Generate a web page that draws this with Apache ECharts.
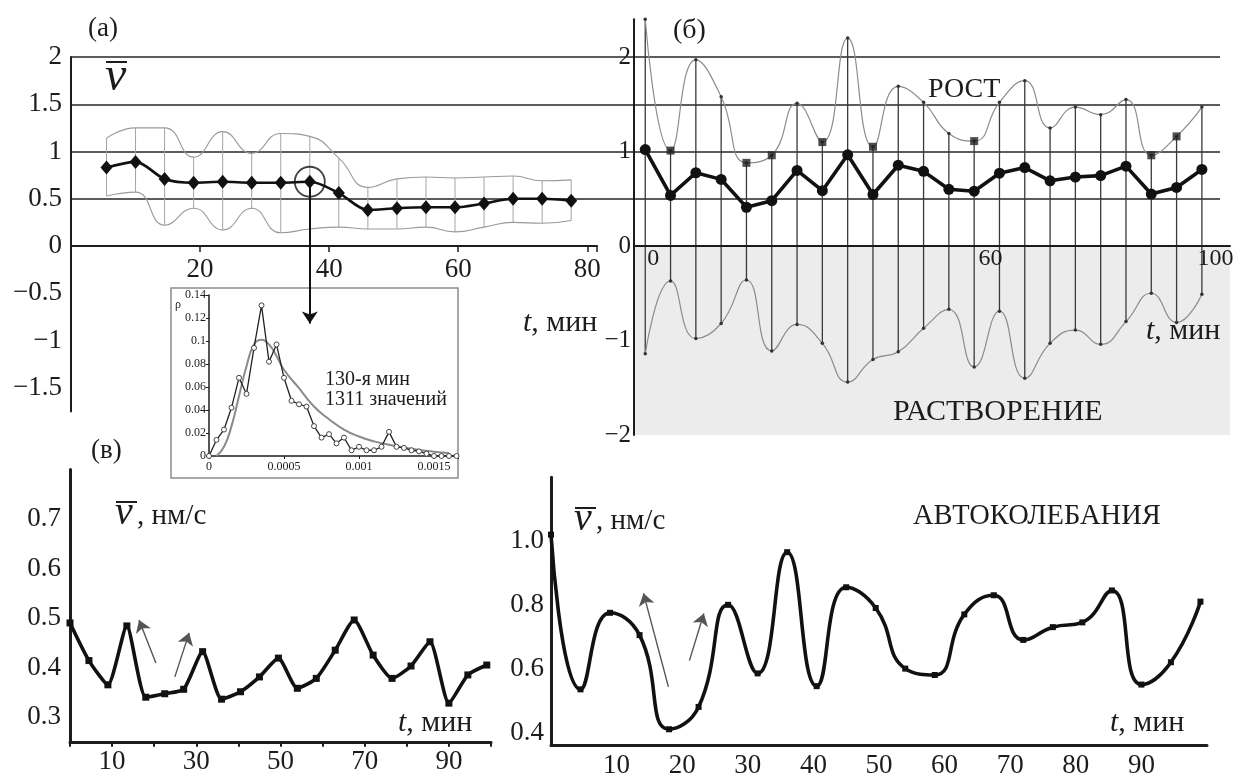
<!DOCTYPE html>
<html>
<head>
<meta charset="utf-8">
<script src="https://cdn.jsdelivr.net/npm/echarts@6/dist/echarts.min.js"></script>
<style>
  html, body { margin: 0; padding: 0; background: #fff; }
  #chart { width: 1244px; height: 773px; }
</style>
</head>
<body>
<div id="chart"></div>
<script>
// ---- (a) mean step velocity with spread band ----
const tA = [5.5, 10, 14.5, 19, 23.5, 28, 32.5, 37, 41.5, 46, 50.5, 55, 59.5, 64, 68.5, 73, 77.5];
const meanA = [0.83, 0.89, 0.71, 0.67, 0.68, 0.67, 0.67, 0.68, 0.56, 0.38, 0.40, 0.41, 0.41, 0.45, 0.50, 0.50, 0.48];
const upperA = [1.14, 1.25, 1.25, 0.94, 1.21, 0.98, 1.19, 1.16, 0.93, 0.62, 0.71, 0.73, 0.72, 0.73, 0.74, 0.69, 0.70];
const lowerA = [0.53, 0.57, 0.22, 0.40, 0.17, 0.40, 0.14, 0.18, 0.20, 0.18, 0.18, 0.20, 0.15, 0.20, 0.25, 0.24, 0.27];
const circledIdxA = 7;          // point whose distribution is shown in the inset
const insetArrowTipA = -0.82;   // where the pointer arrow ends
const ticksAX = [20, 40, 60, 80];
const ticksAY = [-1.5, -1, -0.5, 0, 0.5, 1, 1.5, 2];

// ---- inset: distribution of velocities, 130th minute ----
const rhoX = [0, 0.00005, 0.0001, 0.00015, 0.0002, 0.00025, 0.0003, 0.00035, 0.0004, 0.00045,
              0.0005, 0.00055, 0.0006, 0.00065, 0.0007, 0.00075, 0.0008, 0.00085, 0.0009, 0.00095,
              0.001, 0.00105, 0.0011, 0.00115, 0.0012, 0.00125, 0.0013, 0.00135, 0.0014, 0.00145,
              0.0015, 0.00155, 0.0016, 0.00165];
const rhoY = [0, 0.014, 0.023, 0.042, 0.068, 0.054, 0.094, 0.131, 0.082, 0.097,
              0.068, 0.048, 0.045, 0.043, 0.026, 0.016, 0.019, 0.011, 0.016, 0.005,
              0.008, 0.005, 0.005, 0.008, 0.021, 0.008, 0.007, 0.005, 0.004, 0.002,
              0, 0, 0, 0];
const fitX = [0.00005, 0.0001, 0.00015, 0.0002, 0.00025, 0.0003, 0.00035, 0.0004, 0.00045, 0.0005,
              0.0006, 0.0007, 0.0008, 0.0009, 0.001, 0.0011, 0.0012, 0.0013, 0.0014, 0.0015, 0.0016];
const fitY = [0, 0.008, 0.026, 0.052, 0.078, 0.097, 0.101, 0.097, 0.087, 0.075,
              0.059, 0.043, 0.032, 0.023, 0.017, 0.0127, 0.0098, 0.0074, 0.0053, 0.0038, 0.0027];
const ticksInsetX = [0, 0.0005, 0.001, 0.0015];

// ---- (б) growth / dissolution with mean, 4.5-min sampling ----
const tB = [0, 4.5, 9, 13.5, 18, 22.5, 27, 31.5, 36, 40.5, 45, 49.5, 54, 58.5, 63, 67.5, 72, 76.5, 81, 85.5, 90, 94.5, 99];
const meanB = [1.02, 0.535, 0.775, 0.705, 0.41, 0.48, 0.80, 0.585, 0.965, 0.545, 0.855, 0.79,
               0.60, 0.58, 0.77, 0.83, 0.69, 0.73, 0.745, 0.845, 0.55, 0.62, 0.81];
const upperB = [2.4, 1.01, 1.97, 1.58, 0.88, 0.96, 1.51, 1.10, 2.20, 1.05, 1.69, 1.52,
                1.19, 1.11, 1.52, 1.75, 1.25, 1.47, 1.39, 1.55, 0.96, 1.16, 1.47];
const lowerB = [-1.14, -0.37, -0.98, -0.82, -0.36, -1.11, -0.83, -1.03, -1.44, -1.20, -1.12, -0.87,
                -0.67, -1.28, -0.69, -1.40, -1.03, -0.89, -1.04, -0.80, -0.50, -0.81, -0.51];
const squareIdxB = [1, 4, 5, 7, 9, 13, 20, 21];
const ticksBX = [0, 60, 100];
const ticksBY = [-2, -1, 0, 1, 2];

// ---- (в) mean velocity, two runs ----
const meanV1 = [0.49, 0.414, 0.365, 0.484, 0.340, 0.347, 0.356, 0.432, 0.336, 0.351, 0.381, 0.419,
                0.358, 0.378, 0.435, 0.496, 0.425, 0.378, 0.403, 0.452, 0.328, 0.385, 0.405];
const ticksV1X = [10, 30, 50, 70, 90];
const ticksV1Y = [0.3, 0.4, 0.5, 0.6, 0.7];
const ticksV2X = [10, 20, 30, 40, 50, 60, 70, 80, 90];
const ticksV2Y = [0.4, 0.6, 0.8, 1.0];
// trend arrows: [from, to] in (t, v)
const arrowsV1 = [[[20.4, 0.409], [16.4, 0.496]], [[24.9, 0.381], [28.3, 0.470]]];
const arrowsV2 = [[[17.9, 0.543], [14.1, 0.836]], [[21.1, 0.625], [23.3, 0.773]]];

const FONT = '"Liberation Serif", "Times New Roman", serif';
const INK = '#1c1c1c';

const near = (list, v) => list.some(l => Math.abs(l - v) < 1e-6);
const signed = v => String(+v.toFixed(4)).replace('-', '\u2212');
const pick = (list, fmt) => v => near(list, v) ? fmt(v) : '';
const oneDec = v => v.toFixed(1);

function axisLine(width) { return { onZero: false, lineStyle: { color: INK, width: width } }; }
function labelStyle(size, margin, fmt, extra) {
  return Object.assign({ fontSize: size, fontFamily: FONT, color: INK, margin: margin, formatter: fmt }, extra || {});
}
const hiddenAxis = (gridIndex, min, max) => ({ gridIndex, type: 'value', min, max, show: false });

function spreadSeries(idx, t, hi, lo, color, width) {
  return {
    type: 'custom', xAxisIndex: idx, yAxisIndex: idx, silent: true, z: 2,
    data: t.map((x, i) => [x, hi[i], lo[i]]),
    encode: { x: 0, y: [1, 2] },
    renderItem: (params, api) => {
      const a = api.coord([api.value(0), api.value(1)]);
      const b = api.coord([api.value(0), api.value(2)]);
      return { type: 'line', shape: { x1: a[0], y1: a[1], x2: b[0], y2: b[1] },
               style: { stroke: color, lineWidth: width } };
    }
  };
}

function arrowMarks(list, color, width) {
  return {
    silent: true, symbol: ['none', 'arrow'], symbolSize: 12,
    lineStyle: { color: color, width: width, type: 'solid' }, label: { show: false },
    data: list.map(([p, q]) => [{ coord: p }, { coord: q }])
  };
}

function text(x, y, s, size, extra) {
  return { type: 'text', x: x, y: y, z: 10, silent: true,
           style: Object.assign({ text: s, fontSize: size, fontFamily: FONT, fill: INK,
                                  align: 'left', verticalAlign: 'middle' }, extra || {}) };
}
function tLabel(x, y, size) {
  return text(x, y, '{i|t}, мин', size, {
    rich: { i: { fontStyle: 'italic', fontSize: size, fontFamily: FONT, fill: INK } }
  });
}
function vBar(x, y, size, barY, barLen) {
  return [
    text(x, y, 'v', size, { fontStyle: 'italic' }),
    { type: 'line', z: 10, silent: true, shape: { x1: x + 1, y1: barY, x2: x + barLen, y2: barY },
      style: { stroke: INK, lineWidth: 2 } }
  ];
}

const chart = echarts.init(document.getElementById('chart'), null, { renderer: 'canvas' });

const option = {
  backgroundColor: '#fff',
  animation: false,
  grid: [
    { left: 71, top: 57, width: 1149, height: 141.75, outerBoundsMode: 'none' },   // 0 shared horizontal rules
    { left: 71, top: 57, width: 526, height: 354.375, outerBoundsMode: 'none' },   // 1 (a) data
    { left: 634, top: 19.2, width: 596, height: 415.8, outerBoundsMode: 'none' },  // 2 (б) data
    { left: 209, top: 295, width: 249, height: 161, outerBoundsMode: 'none' },     // 3 inset
    { left: 70, top: 469.5, width: 421, height: 272.25, outerBoundsMode: 'none' }, // 4 (в) left
    { left: 551, top: 477.2, width: 656, height: 268, outerBoundsMode: 'none' },   // 5 (в) right
    { left: 71, top: 57, width: 526, height: 189, outerBoundsMode: 'none' },       // 6 (a) time axis at v = 0
    { left: 634, top: 19.2, width: 596, height: 226.8, outerBoundsMode: 'none' }   // 7 (б) time axis at v = 0
  ],
  xAxis: [
    hiddenAxis(0, 0, 1),
    hiddenAxis(1, 0, 81.5),
    hiddenAxis(2, -2, 104),
    { gridIndex: 3, type: 'value', min: 0, max: 0.00166, interval: 0.0005,
      axisLine: axisLine(1.5), axisTick: { length: 3, lineStyle: { color: INK } },
      axisLabel: labelStyle(12, 5, pick(ticksInsetX, v => String(+v.toFixed(4)))),
      splitLine: { show: false } },
    { gridIndex: 4, type: 'value', min: 0, max: 100, interval: 10,
      axisLine: axisLine(3), axisTick: { length: 5, lineStyle: { color: INK, width: 2 } },
      axisLabel: labelStyle(27, 7, pick(ticksV1X, signed)), splitLine: { show: false } },
    { gridIndex: 5, type: 'value', min: 0, max: 100, interval: 10,
      axisLine: axisLine(3), axisTick: { show: false },
      axisLabel: labelStyle(27, 7, pick(ticksV2X, signed)), splitLine: { show: false } },
    { gridIndex: 6, type: 'value', min: 0, max: 81.5, interval: 20, position: 'bottom',
      axisLine: axisLine(2), axisTick: { length: 6, lineStyle: { color: INK, width: 1.5 } },
      axisLabel: labelStyle(27, 10, pick(ticksAX, signed)), splitLine: { show: false } },
    { gridIndex: 7, type: 'value', min: -2, max: 104, interval: 2, position: 'bottom', z: 6,
      axisLine: axisLine(2), axisTick: { show: false },
      axisLabel: labelStyle(24, 1, pick(ticksBX, signed), { padding: [0, 0, 0, 16] }),
      splitLine: { show: false } }
  ],
  yAxis: [
    { gridIndex: 0, type: 'value', min: 0.5, max: 2, interval: 0.5,
      axisLine: { show: false }, axisTick: { show: false }, axisLabel: { show: false },
      splitLine: { show: true, lineStyle: { color: '#262626', width: 1.6 } } },
    { gridIndex: 1, type: 'value', min: -1.75, max: 2, interval: 0.25,
      axisLine: axisLine(2), axisTick: { show: false },
      axisLabel: labelStyle(27, 9, pick(ticksAY, signed)), splitLine: { show: false } },
    { gridIndex: 2, type: 'value', min: -2, max: 2.4, interval: 0.2,
      axisLine: axisLine(2), axisTick: { show: false },
      axisLabel: labelStyle(25, 3, pick(ticksBY, signed)), splitLine: { show: false } },
    { gridIndex: 3, type: 'value', min: 0, max: 0.14, interval: 0.02,
      axisLine: axisLine(1.5), axisTick: { length: 3, lineStyle: { color: INK } },
      axisLabel: labelStyle(12, 3, v => String(+v.toFixed(2))), splitLine: { show: false } },
    { gridIndex: 4, type: 'value', min: 0.25, max: 0.8, interval: 0.05,
      axisLine: axisLine(3), axisTick: { show: false },
      axisLabel: labelStyle(27, 9, pick(ticksV1Y, oneDec)), splitLine: { show: false } },
    { gridIndex: 5, type: 'value', min: 0.36, max: 1.2, interval: 0.02,
      axisLine: axisLine(3), axisTick: { show: false },
      axisLabel: labelStyle(27, 7, pick(ticksV2Y, oneDec)), splitLine: { show: false } },
    hiddenAxis(6, 0, 2),
    hiddenAxis(7, 0, 2.4)
  ],
  series: [
    // (a)
    spreadSeries(1, tA, upperA, lowerA, '#a4a4a4', 1),
    { type: 'line', xAxisIndex: 1, yAxisIndex: 1, smooth: 0.5, showSymbol: false, silent: true,
      lineStyle: { color: '#9a9a9a', width: 1.1 }, data: tA.map((t, i) => [t, upperA[i]]) },
    { type: 'line', xAxisIndex: 1, yAxisIndex: 1, smooth: 0.5, showSymbol: false, silent: true,
      lineStyle: { color: '#9a9a9a', width: 1.1 }, data: tA.map((t, i) => [t, lowerA[i]]) },
    { type: 'line', xAxisIndex: 1, yAxisIndex: 1, smooth: 0.3, z: 4, silent: true,
      symbol: 'diamond', symbolSize: [12, 14], itemStyle: { color: '#111' },
      lineStyle: { color: '#111', width: 2.6 }, data: tA.map((t, i) => [t, meanA[i]]),
      markLine: arrowMarks([[[tA[circledIdxA], meanA[circledIdxA]], [tA[circledIdxA], insetArrowTipA]]], '#111', 2) },
    { type: 'scatter', xAxisIndex: 1, yAxisIndex: 1, z: 5, silent: true,
      symbol: 'circle', symbolSize: 30,
      itemStyle: { color: 'rgba(0,0,0,0)', borderColor: '#111', borderWidth: 1.8 },
      data: [[tA[circledIdxA], meanA[circledIdxA]]] },

    // (б)
    spreadSeries(2, tB, upperB, lowerB, '#3a3a3a', 1.3),
    { type: 'line', xAxisIndex: 2, yAxisIndex: 2, smooth: 0.5, z: 3, silent: true,
      symbol: 'circle', symbolSize: 3.5, itemStyle: { color: '#333' },
      lineStyle: { color: '#8c8c8c', width: 1.2 }, data: tB.map((t, i) => [t, upperB[i]]) },
    { type: 'line', xAxisIndex: 2, yAxisIndex: 2, smooth: 0.5, z: 3, silent: true,
      symbol: 'circle', symbolSize: 3.5, itemStyle: { color: '#333' },
      lineStyle: { color: '#8c8c8c', width: 1.2 }, data: tB.map((t, i) => [t, lowerB[i]]),
      markArea: { silent: true, itemStyle: { color: '#ececec' }, z: 0,
                  data: [[{ yAxis: -2 }, { yAxis: 0 }]] } },
    { type: 'scatter', xAxisIndex: 2, yAxisIndex: 2, z: 4, silent: true,
      symbol: 'rect', symbolSize: 8, itemStyle: { color: '#222' },
      data: squareIdxB.map(i => [tB[i], upperB[i]]) },
    { type: 'line', xAxisIndex: 2, yAxisIndex: 2, z: 5, silent: true,
      symbol: 'circle', symbolSize: 11, itemStyle: { color: '#111' },
      lineStyle: { color: '#111', width: 3.6 }, data: tB.map((t, i) => [t, meanB[i]]) },

    // inset
    { type: 'line', xAxisIndex: 3, yAxisIndex: 3, smooth: 0.5, showSymbol: false, z: 3, silent: true,
      lineStyle: { color: '#8a8a8a', width: 2 }, data: fitX.map((x, i) => [x, fitY[i]]) },
    { type: 'line', xAxisIndex: 3, yAxisIndex: 3, z: 4, silent: true,
      symbol: 'circle', symbolSize: 5, showAllSymbol: true,
      itemStyle: { color: '#fff', borderColor: '#444', borderWidth: 1 },
      lineStyle: { color: '#222', width: 1.3 }, data: rhoX.map((x, i) => [x, rhoY[i]]) },

    // (в) left
    { type: 'line', xAxisIndex: 4, yAxisIndex: 4, smooth: 0.2, z: 4, silent: true,
      symbol: 'rect', symbolSize: 7, itemStyle: { color: '#111' },
      lineStyle: { color: '#111', width: 3.6 }, data: tB.map((t, i) => [t, meanV1[i]]),
      markLine: arrowMarks(arrowsV1, '#555', 1.4) },

    // (в) right
    { type: 'line', xAxisIndex: 5, yAxisIndex: 5, smooth: 0.5, z: 4, silent: true,
      symbol: 'rect', symbolSize: 6, itemStyle: { color: '#111' },
      lineStyle: { color: '#111', width: 3.6 }, data: tB.map((t, i) => [t, meanB[i]]),
      markLine: arrowMarks(arrowsV2, '#555', 1.4) }
  ],
  graphic: [
    { type: 'rect', z: -10, silent: true, shape: { x: 171, y: 288, width: 287, height: 190 },
      style: { fill: '#fff', stroke: '#8c8c8c', lineWidth: 1.5 } },
    text(88, 29, '(a)', 27),
    ...vBar(105, 77, 48, 62, 22),
    tLabel(523, 323, 30),
    text(673, 31, '(б)', 28),
    text(928, 90, 'РОСТ', 28),
    text(893, 412, 'РАСТВОРЕНИЕ', 30),
    tLabel(1146, 331, 30),
    text(175, 305, 'ρ', 12),
    text(325, 380, '130-я мин', 20),
    text(325, 400, '1311 значений', 20),
    text(91, 451, '(в)', 27),
    ...vBar(115, 513, 40, 502, 22),
    text(137, 516, ', нм/с', 29),
    tLabel(398, 723, 30),
    ...vBar(574, 519, 40, 508, 22),
    text(596, 521, ', нм/с', 29),
    text(913, 517, 'АВТОКОЛЕБАНИЯ', 28.5),
    tLabel(1110, 723, 30)
  ]
};

chart.setOption(option);
</script>
</body>
</html>
